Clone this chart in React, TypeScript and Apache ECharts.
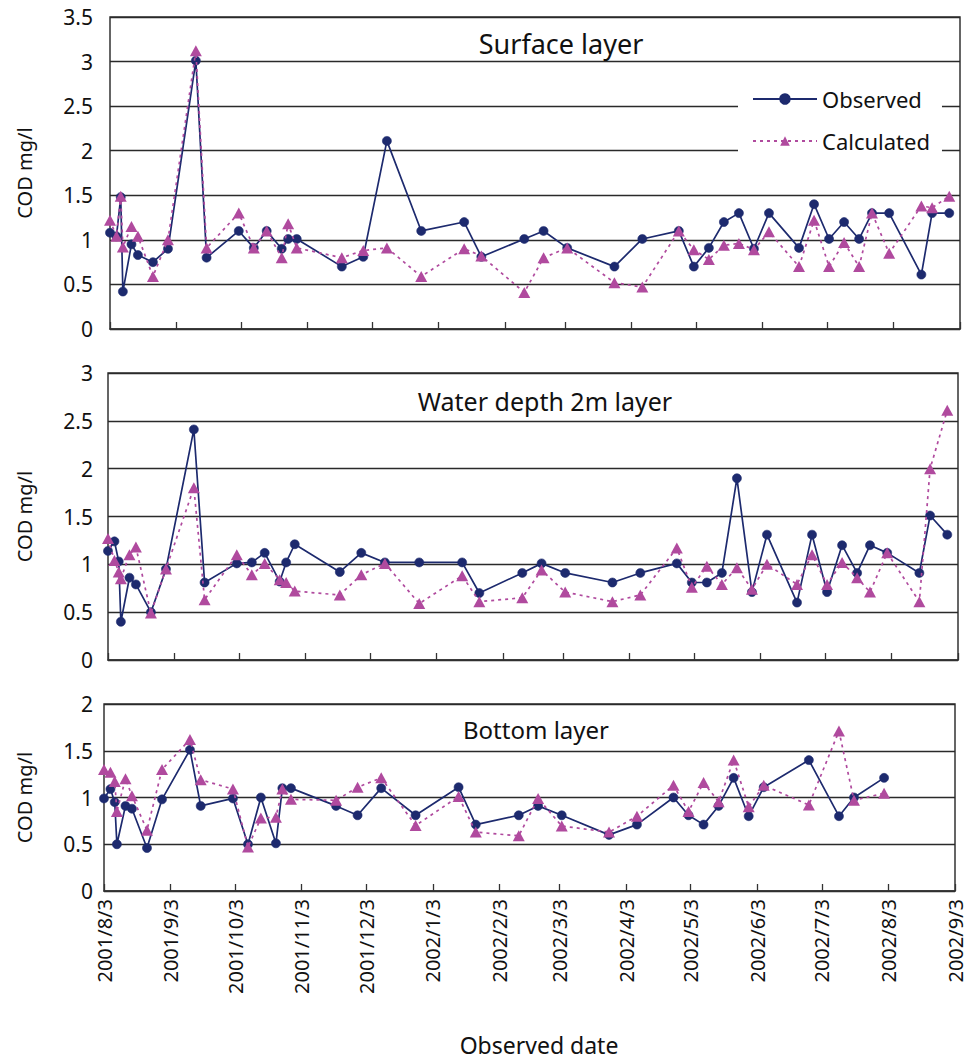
import React, { useEffect, useRef } from 'react';
import * as echarts from 'echarts';

// Sampling dates (shared by the three layers)
const DATES = [
  '2001-08-03', '2001-08-06', '2001-08-08', '2001-08-09', '2001-08-13', '2001-08-16',
  '2001-08-23', '2001-08-30', '2001-09-12', '2001-09-17', '2001-10-02', '2001-10-09',
  '2001-10-15', '2001-10-22', '2001-10-25', '2001-10-29', '2001-11-19', '2001-11-29',
  '2001-12-10', '2001-12-26', '2002-01-15', '2002-01-23', '2002-02-12', '2002-02-21',
  '2002-03-04', '2002-03-26', '2002-04-08', '2002-04-25', '2002-05-02', '2002-05-09',
  '2002-05-16', '2002-05-23', '2002-05-30', '2002-06-06', '2002-06-20', '2002-06-27',
  '2002-07-04', '2002-07-11', '2002-07-18', '2002-07-24', '2002-08-01', '2002-08-16',
  '2002-08-21', '2002-08-29',
];

const SURFACE_OBSERVED = [
  1.08, 1.04, 1.48, 0.42, 0.95, 0.83, 0.75, 0.9, 3.01, 0.8, 1.1, 0.91,
  1.1, 0.9, 1.01, 1.01, 0.7, 0.81, 2.11, 1.1, 1.2, 0.81, 1.01, 1.1,
  0.91, 0.7, 1.01, 1.1, 0.7, 0.91, 1.2, 1.3, 0.9, 1.3, 0.91, 1.4,
  1.01, 1.2, 1.01, 1.3, 1.3, 0.61, 1.3, 1.3,
];
const SURFACE_CALCULATED = [
  1.22, 1.04, 1.49, 0.92, 1.15, 1.04, 0.59, 1.0, 3.12, 0.91, 1.3, 0.91,
  1.1, 0.8, 1.18, 0.91, 0.8, 0.88, 0.91, 0.59, 0.9, 0.82, 0.41, 0.8,
  0.91, 0.52, 0.47, 1.1, 0.89, 0.78, 0.94, 0.96, 0.89, 1.09, 0.7, 1.22,
  0.7, 0.97, 0.7, 1.3, 0.85, 1.38, 1.36, 1.49,
];

const MID_OBSERVED = [
  1.14, 1.24, 1.03, 0.4, 0.86, 0.79, 0.5, 0.95, 2.41, 0.81, 1.01, 1.02,
  1.12, 0.82, 1.02, 1.21, 0.92, 1.12, 1.02, 1.02, 1.02, 0.7, 0.91, 1.01,
  0.91, 0.81, 0.91, 1.01, 0.81, 0.81, 0.91, 1.9, 0.71, 1.31, 0.6, 1.31,
  0.71, 1.2, 0.91, 1.2, 1.12, 0.91, 1.51, 1.31,
];
const MID_CALCULATED = [
  1.27, 1.04, 0.92, 0.85, 1.1, 1.18, 0.49, 0.95, 1.8, 0.63, 1.1, 0.89,
  1.01, 0.84, 0.81, 0.72, 0.68, 0.89, 1.01, 0.59, 0.88, 0.61, 0.65, 0.94,
  0.71, 0.61, 0.68, 1.17, 0.76, 0.98, 0.79, 0.965, 0.74, 1.0, 0.79, 1.1,
  0.79, 1.02, 0.86, 0.71, 1.12, 0.61, 2.0, 2.61,
];

const BOTTOM_OBSERVED = [
  0.99, 1.09, 0.95, 0.5, 0.91, 0.88, 0.46, 0.98, 1.51, 0.91, 0.99, 0.5,
  1.0, 0.51, 1.1, 1.1, 0.91, 0.81, 1.1, 0.81, 1.11, 0.71, 0.81, 0.91,
  0.81, 0.6, 0.71, 1.0, 0.81, 0.71, 0.91, 1.21, 0.8, 1.11, null, 1.4,
  null, 0.8, 1.0, null, 1.21, null, null, null,
];
const BOTTOM_CALCULATED = [
  1.3, 1.27, 1.17, 0.85, 1.2, 1.02, 0.65, 1.3, 1.62, 1.19, 1.09, 0.47,
  0.78, 0.79, 1.09, 0.98, 0.97, 1.11, 1.21, 0.7, 1.01, 0.63, 0.59, 0.99,
  0.695, 0.63, 0.8, 1.13, 0.85, 1.16, 0.955, 1.4, 0.9, 1.13, null, 0.92,
  null, 1.71, 0.97, null, 1.045, null, null, null,
];

const TICK_DATES = [
  '2001-08-03', '2001-09-03', '2001-10-03', '2001-11-03', '2001-12-03', '2002-01-03',
  '2002-02-03', '2002-03-03', '2002-04-03', '2002-05-03', '2002-06-03', '2002-07-03',
  '2002-08-03', '2002-09-03',
];

const PANEL_TITLES = ['Surface layer', 'Water depth 2m layer', 'Bottom layer'];
const Y_MAX = [3.5, 3, 2];
const SERIES_NAMES = ['Observed', 'Calculated'];

const OBS_COLOR = '#1d2a6e';
const CALC_COLOR = '#b04a9e';
const FONT = '"Noto Sans", "DejaVu Sans", sans-serif';

function ts(s: string): number {
  const [y, m, d] = s.split('-').map(Number);
  return Date.UTC(y, m - 1, d);
}

function fmtDate(v: number): string {
  const d = new Date(v);
  return `${d.getUTCFullYear()}/${d.getUTCMonth() + 1}/${d.getUTCDate()}`;
}

function pairs(vals: (number | null)[]) {
  const out: [number, number][] = [];
  vals.forEach((v, i) => {
    if (v !== null && v !== undefined) out.push([ts(DATES[i]), v]);
  });
  return out;
}

export default function App() {
  const ref = useRef<HTMLDivElement>(null);

  useEffect(() => {
    if (!ref.current) return;
    const chart = echarts.init(ref.current, undefined, { renderer: 'svg' });

    const grids = [
      { left: 110, top: 17, width: 850, height: 312 },
      { left: 108, top: 373, width: 850, height: 287 },
      { left: 104, top: 704, width: 851, height: 187 },
    ];
    const labelMargins = [17, 15, 11];
    const tickVals = TICK_DATES.map(ts);
    const xMin = tickVals[0];
    const xMax = tickVals[tickVals.length - 1];

    const panelData = [
      [SURFACE_OBSERVED, SURFACE_CALCULATED],
      [MID_OBSERVED, MID_CALCULATED],
      [BOTTOM_OBSERVED, BOTTOM_CALCULATED],
    ];

    const series: any[] = [];
    panelData.forEach((pd, gi) => {
      series.push({
        name: SERIES_NAMES[0],
        type: 'line',
        xAxisIndex: gi,
        yAxisIndex: gi,
        data: pairs(pd[0]),
        symbol: 'circle',
        symbolSize: 9,
        itemStyle: { color: OBS_COLOR, borderColor: OBS_COLOR, borderWidth: 0.6 },
        lineStyle: { color: OBS_COLOR, width: 1.7, type: 'solid' },
        z: 3,
      });
      series.push({
        name: SERIES_NAMES[1],
        type: 'line',
        xAxisIndex: gi,
        yAxisIndex: gi,
        data: pairs(pd[1]),
        symbol: 'triangle',
        symbolSize: [12, 11],
        itemStyle: { color: CALC_COLOR },
        lineStyle: { color: CALC_COLOR, width: 1.7, type: [3, 4] },
        z: 4,
      });
    });

    const titleCfg = [
      { x: 561, y: 43, size: 27 },
      { x: 545, y: 401, size: 25 },
      { x: 536, y: 729, size: 24 },
    ];

    chart.setOption({
      animation: false,
      backgroundColor: '#ffffff',
      textStyle: { fontFamily: FONT },
      grid: grids.map((g) => ({
        ...g,
        show: true,
        borderColor: '#333',
        borderWidth: 1.5,
        backgroundColor: 'transparent',
        containLabel: false,
      })),
      xAxis: grids.map((_, gi) => ({
        type: 'value',
        gridIndex: gi,
        min: xMin,
        max: xMax,
        splitLine: { show: false },
        axisLine: { show: true, lineStyle: { color: '#333', width: 1.5 } },
        axisTick: {
          show: true,
          inside: true,
          length: 7,
          customValues: tickVals,
          lineStyle: { color: '#333', width: 1.3 },
        },
        axisLabel: {
          show: gi === 2,
          customValues: tickVals,
          rotate: 90,
          margin: 8,
          fontSize: 20,
          lineHeight: 14,
          color: '#111',
          fontFamily: FONT,
          formatter: (v: number) => fmtDate(v),
        },
      })),
      yAxis: grids.map((_, gi) => ({
        type: 'value',
        gridIndex: gi,
        min: 0,
        max: Y_MAX[gi],
        interval: 0.5,
        name: 'COD mg/l',
        nameLocation: 'middle',
        nameRotate: 90,
        nameGap: 76 - (110 - grids[gi].left),
        nameTextStyle: { fontSize: 20, color: '#111', fontFamily: FONT },
        axisLine: { show: false },
        axisTick: { show: false },
        axisLabel: { fontSize: 21, color: '#111', margin: labelMargins[gi], fontFamily: FONT },
        splitLine: { show: true, lineStyle: { color: '#2a2a2a', width: 1.4 } },
      })),
      legend: {
        data: SERIES_NAMES,
        orient: 'vertical',
        left: 738,
        top: 68,
        padding: [20, 12, 20, 14],
        itemGap: 20,
        itemWidth: 64,
        itemHeight: 12,
        backgroundColor: '#ffffff',
        textStyle: { fontSize: 22, color: '#111', fontFamily: FONT, lineHeight: 22 },
        selectedMode: false,
      },
      graphic: [
        ...PANEL_TITLES.map((t, i) => ({
          type: 'text',
          x: titleCfg[i].x,
          y: titleCfg[i].y,
          z: 10,
          style: {
            text: t,
            fontSize: titleCfg[i].size,
            fontFamily: FONT,
            fill: '#111',
            textAlign: 'center',
            textVerticalAlign: 'middle',
          },
        })),
        {
          type: 'text',
          x: 539,
          y: 1045,
          style: {
            text: 'Observed date',
            fontSize: 23,
            fontFamily: FONT,
            fill: '#111',
            textAlign: 'center',
            textVerticalAlign: 'middle',
          },
        },
      ],
      series,
    });

    return () => chart.dispose();
  }, []);

  return (
    <div
      ref={ref}
      style={{ position: 'fixed', left: 0, top: 0, width: 968, height: 1061, background: '#fff' }}
    />
  );
}
